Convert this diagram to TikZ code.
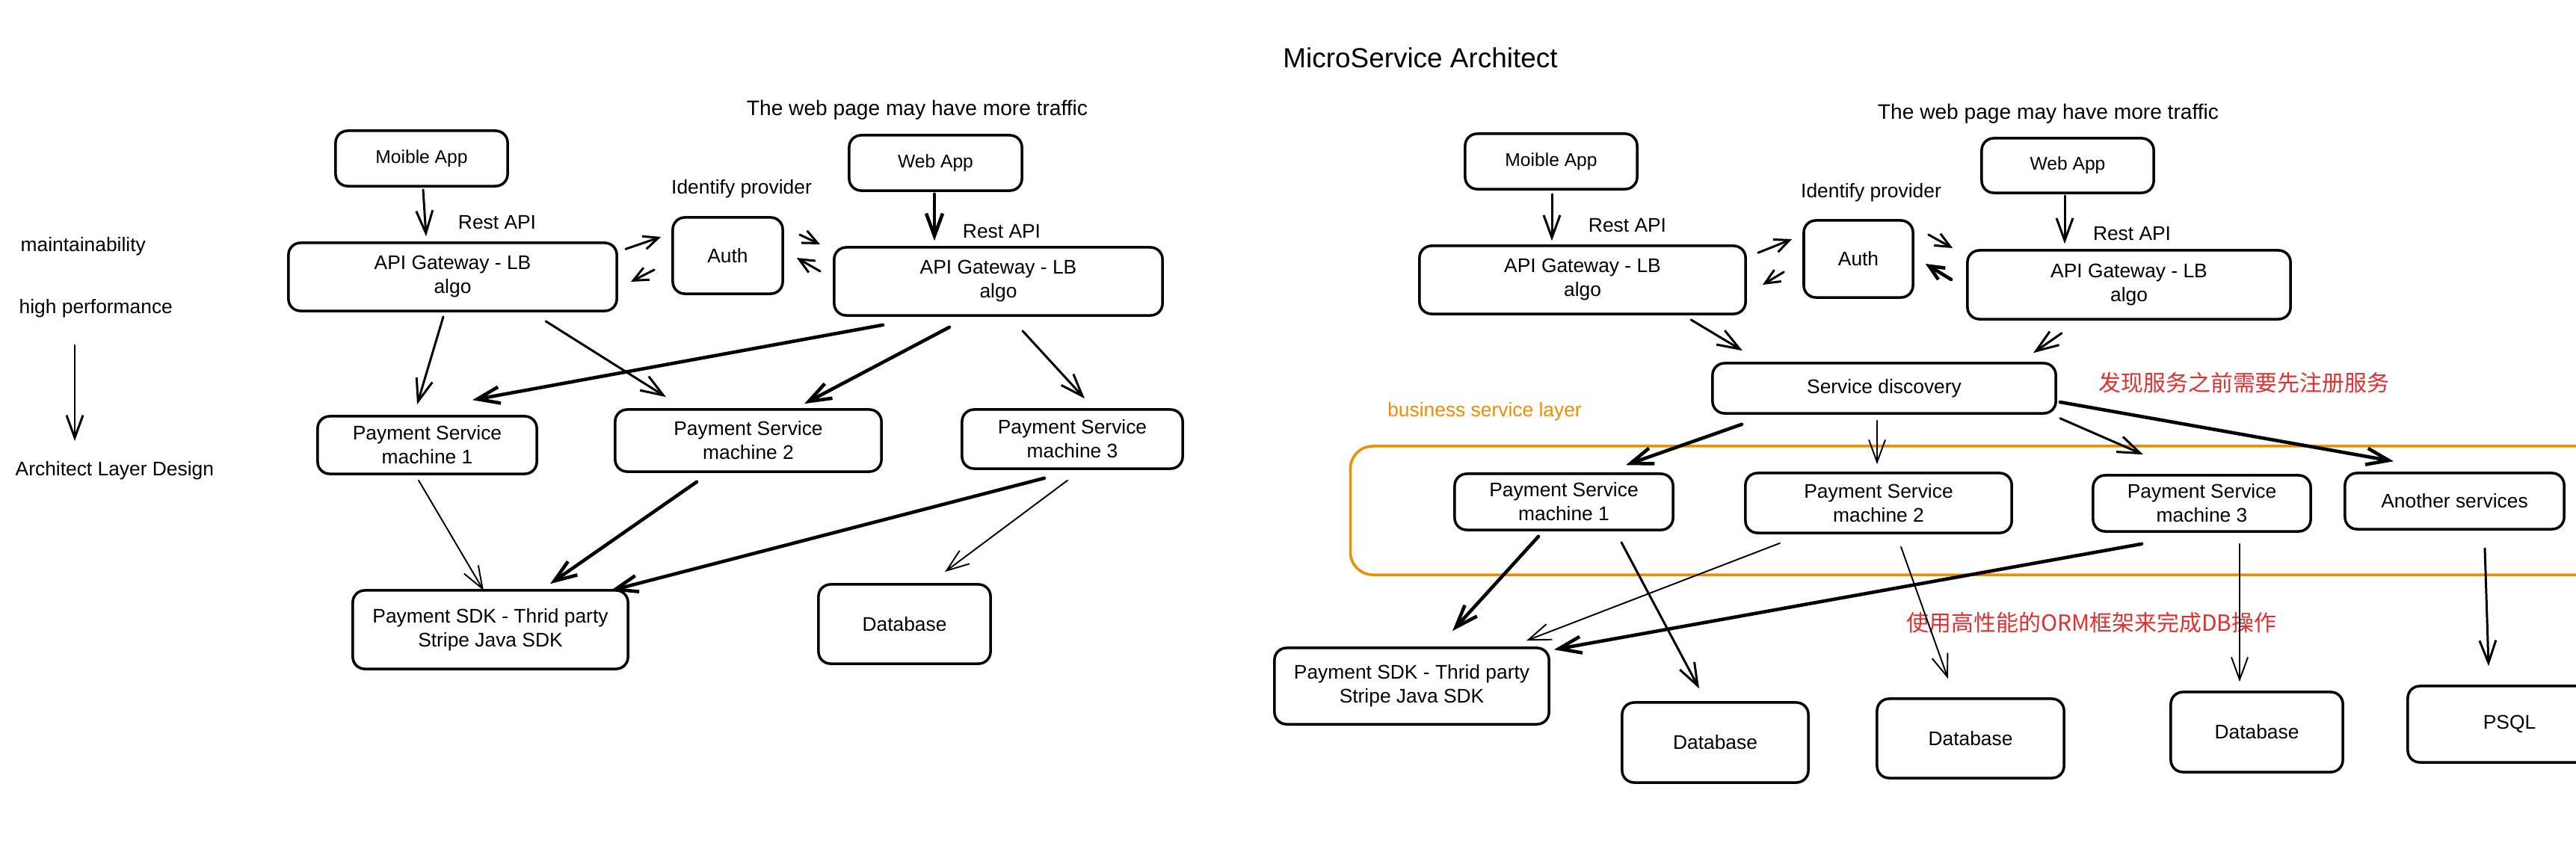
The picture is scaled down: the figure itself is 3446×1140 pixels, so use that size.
\documentclass[tikz,border=0pt]{standalone}
\usepackage{fontspec}
\setmainfont{Liberation Sans}
\newfontfamily\cjk{Noto Sans CJK SC}
\usetikzlibrary{arrows.meta,calc}
\definecolor{exred}{HTML}{E03131}
\definecolor{exorange}{HTML}{F08C00}
\tikzset{
 box/.style={draw, line width=1pt, rounded corners=0.16cm, align=center, inner sep=0pt, font=\fontsize{7.5}{9.1}\selectfont},
 hbox/.style={box, font=\fontsize{7}{8.4}\selectfont},
 lbl/.style={inner sep=0pt, font=\fontsize{7.5}{9}\selectfont},
 arr/.style={line width=0.85pt, -{Straight Barb[length=3mm,width=2.2mm]}, line cap=round},
 thinarr/.style={arr, line width=0.55pt},
 thickarr/.style={arr, line width=1.3pt},
 sarr/.style={arr, -{Straight Barb[length=2mm,width=1.8mm]}},
 cjktext/.style={inner sep=0pt, text=exred, font=\cjk\fontsize{8.5}{10}\selectfont},
}
\begin{document}
\begin{tikzpicture}[x=0.01cm,y=-0.01cm]
\useasboundingbox[fill=white] (0,0) rectangle (3446,1140);

% ---------- titles and free texts ----------
\node[lbl, font=\fontsize{10.5}{12}\selectfont] (title) at (1900,77) {MicroService Architect};
\node[lbl, anchor=west] (maint) at (27,330) {maintainability};
\node[lbl, anchor=west] (perf) at (25,413) {high performance};
\node[lbl, anchor=west] (layer) at (20,630) {Architect Layer Design};
\coordinate (vtop) at (100,462);
\coordinate (vbot) at (100,590);
\draw[arr] (vtop) -- (vbot);

% ---------- left diagram ----------
\node[lbl, font=\fontsize{8}{9}\selectfont] (trafL) at (1227,147) {The web page may have more traffic};
\node[lbl] (idL) at (992,253) {Identify provider};
\node[lbl] (restLa) at (665,298) {Rest API};
\node[lbl] (restLb) at (1340,310) {Rest API};

\node[hbox, minimum width=2.30cm, minimum height=0.74cm] (mobL) at (564,212) {Moible App};
\node[hbox, minimum width=2.31cm, minimum height=0.74cm] (webL) at (1251.5,218) {Web App};
\node[box, minimum width=4.39cm, minimum height=0.91cm] (gwLa) at (605.5,370.5) {API Gateway - LB\\algo};
\node[box, minimum width=1.47cm, minimum height=1.02cm] (authL) at (973.5,342) {Auth};
\node[box, minimum width=4.39cm, minimum height=0.91cm] (gwLb) at (1335.5,376.5) {API Gateway - LB\\algo};
\node[box, minimum width=2.93cm, minimum height=0.77cm] (ps1L) at (571.5,595.5) {Payment Service\\machine 1};
\node[box, minimum width=3.56cm, minimum height=0.83cm] (ps2L) at (1001,589.5) {Payment Service\\machine 2};
\node[box, minimum width=2.95cm, minimum height=0.79cm] (ps3L) at (1434.5,587.5) {Payment Service\\machine 3};
\node[box, minimum width=3.68cm, minimum height=1.05cm] (sdkL) at (656,842.5) {Payment SDK - Thrid party\\Stripe Java SDK};
\node[box, minimum width=2.30cm, minimum height=1.06cm] (dbL) at (1210,835) {Database};

\draw[arr] ($(mobL.south)+(2,3)$) -- ($(gwLa.north)+(-35.5,-7)$);
\draw[thickarr] ($(webL.south)+(-1.5,3)$) -- ($(gwLb.north)+(-85.5,-7)$);
\draw[sarr] ($(gwLa.north east)+(10,10)$) -- ($(authL.west)+(-14,-25)$);
\draw[sarr] ($(authL.west)+(-23,19)$) -- ($(gwLa.east)+(17,6.5)$);
\draw[sarr] ($(authL.east)+(21,-28)$) -- ($(gwLb.west)+(-17,-49.5)$);
\draw[sarr] ($(gwLb.west)+(-17,-13.5)$) -- ($(authL.east)+(17,3)$);
\draw[arr] ($(gwLa.south)+(-12.5,6)$) -- ($(ps1L.north)+(-13.5,-14)$);
\draw[arr] ($(gwLa.south)+(124.5,12)$) -- ($(ps2L.north)+(-110,-15)$);
\draw[thickarr] ($(gwLb.south)+(-154.5,11)$) -- ($(ps1L.north)+(60.5,-20)$);
\draw[thickarr] ($(gwLb.south)+(-65.5,14)$) -- ($(ps2L.north)+(75,-6)$);
\draw[arr] ($(gwLb.south)+(32.5,19)$) -- ($(ps3L.north)+(16.5,-13)$);
\draw[thinarr] ($(ps1L.south)+(-11.5,7)$) -- ($(sdkL.north)+(-9,2)$);
\draw[thickarr] ($(ps2L.south)+(-69,12)$) -- ($(sdkL.north)+(80,-7)$);
\draw[thickarr] ($(ps3L.south)+(-37.5,11)$) -- ($(sdkL.north east)+(-25,2)$);
\draw[thinarr] ($(ps3L.south)+(-6.5,14)$) -- ($(dbL.north)+(54,-15)$);

% ---------- right diagram ----------
\node[lbl, font=\fontsize{8}{9}\selectfont] (trafR) at (2740,152) {The web page may have more traffic};
\node[lbl] (idR) at (2503,258) {Identify provider};
\node[lbl] (restRa) at (2177,302) {Rest API};
\node[lbl] (restRb) at (2852,313) {Rest API};
\node[cjktext] (noteA) at (3002,512) {发现服务之前需要先注册服务};
\node[cjktext] (noteB) at (2798,833) {使用高性能的ORM框架来完成DB操作};

\node[draw=exorange, line width=1pt, rounded corners=0.3cm, minimum width=17.93cm, minimum height=1.72cm, inner sep=0pt] (bizlayer) at (2703.5,683) {};
\node[lbl, text=exorange] (bizlabel) at (1986,551) {business service layer};

\node[hbox, minimum width=2.30cm, minimum height=0.74cm] (mobR) at (2075,216) {Moible App};
\node[hbox, minimum width=2.30cm, minimum height=0.73cm] (webR) at (2766,221.5) {Web App};
\node[box, minimum width=4.36cm, minimum height=0.91cm] (gwRa) at (2117,374.5) {API Gateway - LB\\algo};
\node[box, minimum width=1.46cm, minimum height=1.03cm] (authR) at (2486,346.5) {Auth};
\node[box, minimum width=4.32cm, minimum height=0.92cm] (gwRb) at (2848,381) {API Gateway - LB\\algo};
\node[box, minimum width=4.59cm, minimum height=0.67cm] (sd) at (2520.5,519.5) {Service discovery};
\node[box, minimum width=2.92cm, minimum height=0.75cm] (ps1R) at (2092,671.5) {Payment Service\\machine 1};
\node[box, minimum width=3.56cm, minimum height=0.80cm] (ps2R) at (2513,673) {Payment Service\\machine 2};
\node[box, minimum width=2.91cm, minimum height=0.75cm] (ps3R) at (2945.5,673.5) {Payment Service\\machine 3};
\node[box, minimum width=2.93cm, minimum height=0.75cm] (another) at (3283.5,670.5) {Another services};
\node[box, minimum width=3.67cm, minimum height=1.02cm] (sdkR) at (1888.5,918) {Payment SDK - Thrid party\\Stripe Java SDK};
\node[box, minimum width=2.49cm, minimum height=1.07cm] (db1) at (2294.5,993.5) {Database};
\node[box, minimum width=2.50cm, minimum height=1.06cm] (db2) at (2636,988) {Database};
\node[box, minimum width=2.30cm, minimum height=1.07cm] (db3) at (3019,979.5) {Database};
\node[box, minimum width=2.72cm, minimum height=1.02cm] (psql) at (3357,969) {PSQL};

\draw[arr] ($(mobR.south)+(1,5)$) -- ($(gwRa.north)+(-41,-5)$);
\draw[arr] ($(webR.south)+(-4,2)$) -- ($(gwRb.north)+(-86,-7)$);
\draw[sarr] ($(gwRa.north east)+(15,11)$) -- ($(authR.west)+(-14,-26.5)$);
\draw[sarr] ($(authR.west)+(-25,17.5)$) -- ($(gwRa.east)+(21,6.5)$);
\draw[sarr] ($(authR.east)+(19,-32.5)$) -- ($(gwRb.west)+(-18,-49)$);
\draw[sarr, line width=1.3pt] ($(gwRb.west)+(-20,-7)$) -- ($(authR.east)+(15,6.5)$);
\draw[arr] ($(gwRa.south)+(145,6)$) -- ($(sd.north)+(-189.5,-15)$);
\draw[arr] ($(gwRb.south)+(-90,17)$) -- ($(sd.north)+(199.5,-12)$);
\draw[thickarr] ($(sd.south)+(-190.5,13)$) -- ($(ps1R.north)+(83,-10)$);
\draw[thinarr] ($(sd.south)+(-9.5,8)$) -- ($(ps2R.north)+(-2,-10)$);
\draw[arr] ($(sd.south east)+(4,5)$) -- ($(ps3R.north)+(-78.5,-26)$);
\draw[thickarr] ($(sd.east)+(4,18.5)$) -- ($(another.north)+(-81.5,-14)$);
\draw[thickarr] ($(ps1R.south)+(-34,7)$) -- ($(sdkR.north)+(54.5,-21)$);
\draw[arr] ($(ps1R.south)+(77,15)$) -- ($(db1.north)+(-21.5,-17)$);
\draw[thinarr] ($(ps2R.south)+(-132,12)$) -- ($(sdkR.north east)+(-32,-8)$);
\draw[thinarr] ($(ps2R.south)+(30,17)$) -- ($(db2.north)+(-30,-25)$);
\draw[thickarr] ($(ps3R.south)+(-80.5,15)$) -- ($(sdkR.north east)+(5,4)$);
\draw[thinarr] ($(ps3R.south)+(50.5,15)$) -- ($(db3.north)+(-23,-12)$);
\draw[arr] ($(another.south)+(40.5,24)$) -- ($(psql.north)+(-28,-25)$);
\end{tikzpicture}
\end{document}
